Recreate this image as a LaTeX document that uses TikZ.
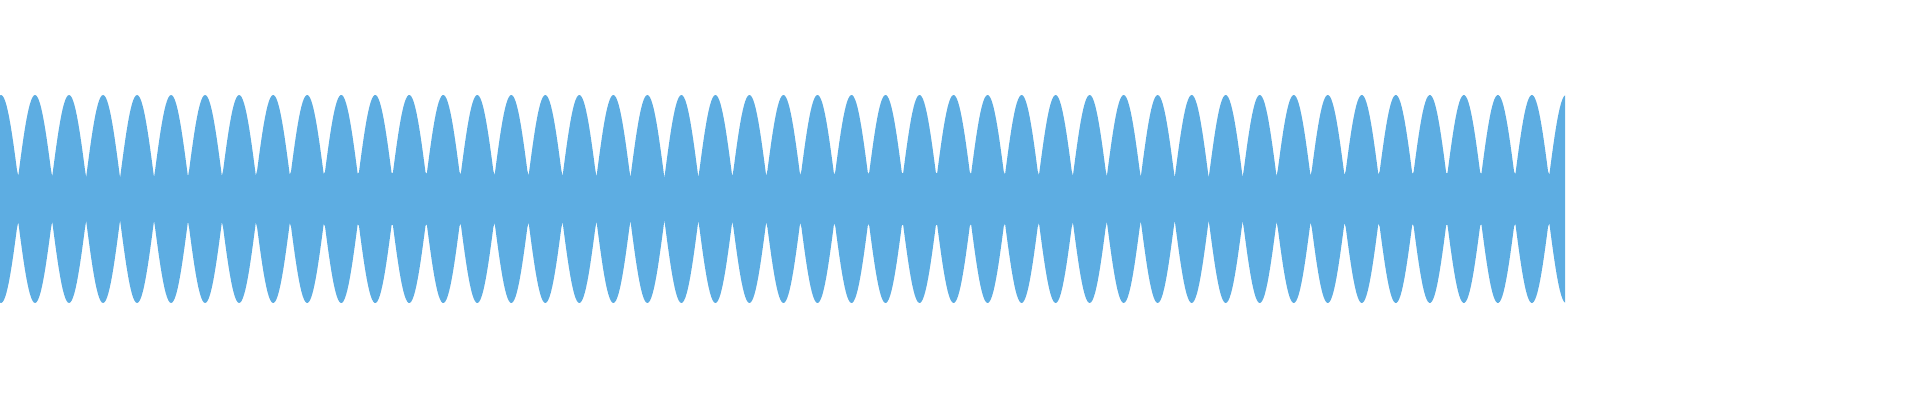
\documentclass[tikz,border=0pt]{standalone}
\usetikzlibrary{positioning}
\definecolor{wavefill}{RGB}{93,173,226}

\begin{document}
\begin{tikzpicture}[x=0.01cm,y=0.01cm,wave/.style={fill=wavefill}]
\useasboundingbox (0,0) rectangle (1920,400);
 %\draw [help lines] (0,0) grid (1920,400);
\fill [wave] plot [domain=0:1565,samples=1200] (\x,{201+21+83*abs(cos(5.291*(\x-1)))})
  -- plot [domain=1565:0,samples=1200] (\x,{201-21-83*abs(cos(5.291*(\x-1)))}) -- cycle;
\end{tikzpicture}
\end{document}
